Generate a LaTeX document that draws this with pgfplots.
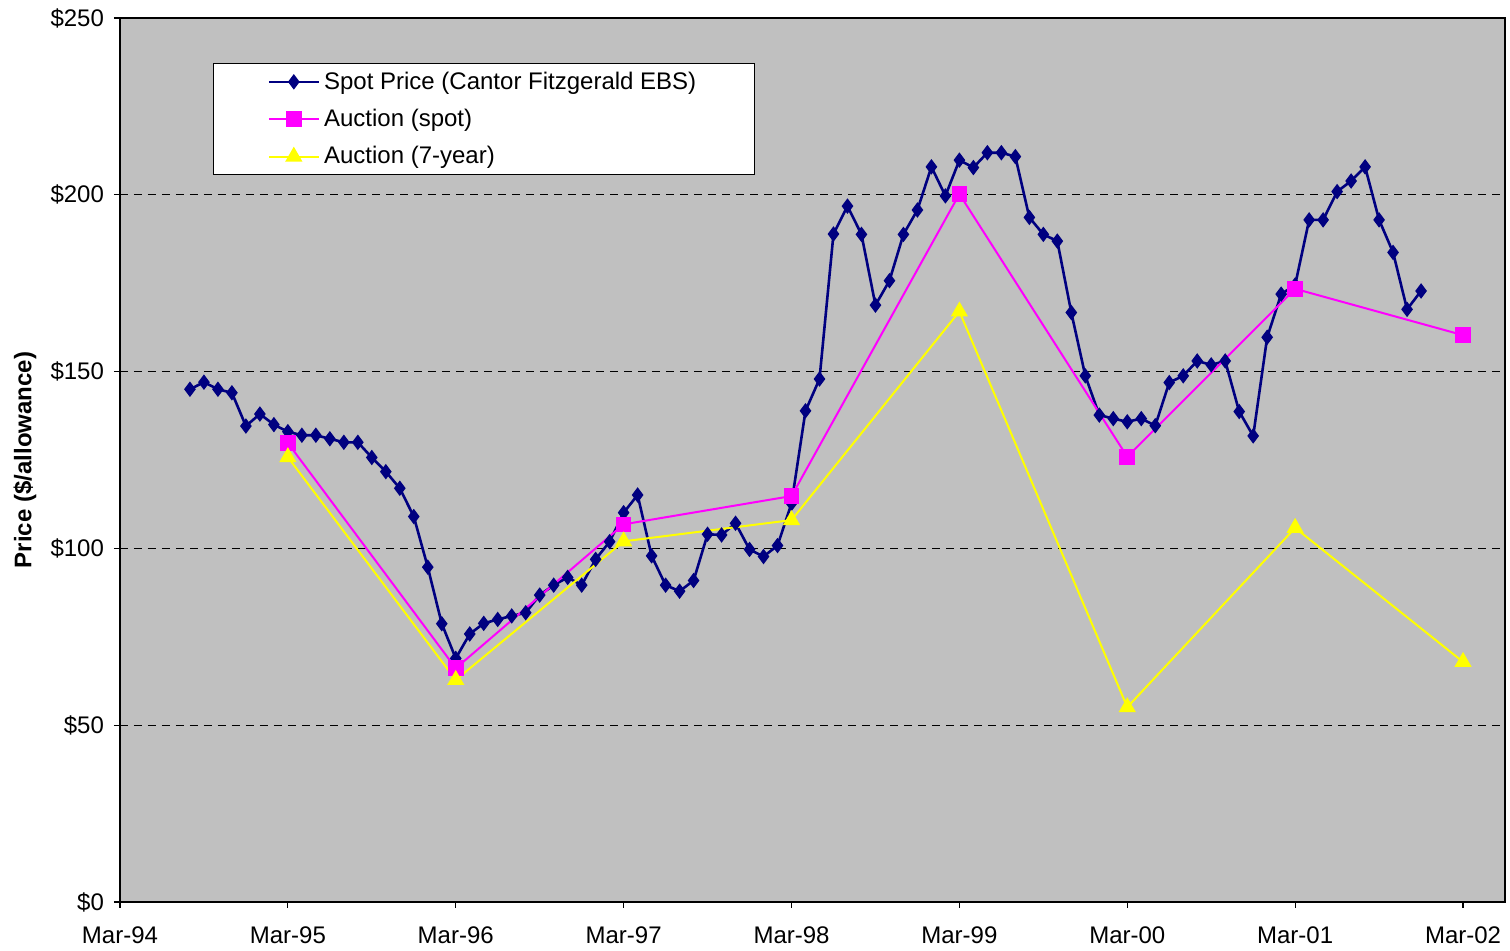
\documentclass[border=0pt]{standalone}
\usepackage{pgfplots}
\pgfplotsset{compat=1.18}
\usepackage{fontspec}
\setmainfont{Liberation Sans}
\definecolor{navyc}{RGB}{0,0,128}
\definecolor{magc}{RGB}{255,0,255}
\definecolor{yelc}{RGB}{255,255,0}
\definecolor{bgc}{RGB}{192,192,192}
\begin{document}
\begin{tikzpicture}
\begin{axis}[
  scale only axis,
  width=692.5pt, height=442pt,
  xmin=0, xmax=99, ymin=0, ymax=250,
  axis background/.style={fill=bgc},
  axis line style={black, line width=0.8pt},
  xtick={0,12,24,36,48,60,72,84,96},
  xticklabels={Mar-94,Mar-95,Mar-96,Mar-97,Mar-98,Mar-99,Mar-00,Mar-01,Mar-02},
  ytick={0,50,100,150,200,250},
  yticklabels={\$0,\$50,\$100,\$150,\$200,\$250},
  tick align=outside, xtick pos=bottom, ytick pos=left,
  major tick length=3pt,
  tick style={black, line width=0.6pt},
  ticklabel style={font=\fontsize{12}{14}\selectfont},
  xticklabel style={yshift=-6pt},
  yticklabel style={xshift=-1.5pt},
  ymajorgrids,
  grid style={black, dash pattern=on 4pt off 3pt, line width=0.5pt},
  ylabel={Price (\$/allowance)},
  ylabel style={font=\fontsize{12}{14}\selectfont\bfseries, at={(axis description cs:-0.0686,0.5)}, anchor=center},
  legend style={at={(rel axis cs:0.0671,0.949)}, anchor=north west, draw=black, fill=white,
    font=\fontsize{12}{14}\selectfont, inner xsep=27pt, inner ysep=2pt, row sep=4.5pt, line width=0.6pt},
  legend cell align=left,
  legend image code/.code={\draw[mark repeat=2,mark phase=2] plot coordinates {(0pt,0pt)(12.5pt,0pt)(25pt,0pt)};},
]
\addplot[navyc, line width=1.3pt, mark=diamond*, mark size=3.4pt, mark options={solid, fill=navyc, line width=0.6pt}] coordinates {
(5,145)(6,147)(7,145)(8,144)(9,134.6)(10,138)(11,135)(12,133)(13,132)(14,132)(15,131)(16,130)(17,130)
(18,125.7)(19,121.7)(20,117)(21,109)(22,94.7)(23,78.7)(24,68.9)(25,75.8)(26,78.8)(27,79.9)(28,80.9)
(29,81.8)(30,86.8)(31,89.6)(32,91.8)(33,89.6)(34,96.9)(35,101.9)(36,110.1)(37,115.1)(38,97.9)(39,89.6)
(40,87.9)(41,90.9)(42,104)(43,103.8)(44,107.1)(45,99.7)(46,97.7)(47,100.8)(48,112.7)(49,138.9)(50,147.9)
(51,188.9)(52,196.8)(53,188.8)(54,168.8)(55,175.7)(56,188.8)(57,195.7)(58,207.9)(59,199.7)(60,209.8)
(61,207.7)(62,211.9)(63,211.9)(64,210.8)(65,193.6)(66,188.8)(67,186.9)(68,166.7)(69,148.8)(70,137.7)
(71,136.7)(72,135.8)(73,136.7)(74,134.7)(75,146.9)(76,148.8)(77,153)(78,151.9)(79,153)(80,138.7)
(81,131.8)(82,159.7)(83,171.9)(84,174.5)(85,192.9)(86,192.9)(87,200.9)(88,203.9)(89,207.9)(90,192.9)
(91,183.7)(92,167.6)(93,172.8)};
\addlegendentry{Spot Price (Cantor Fitzgerald EBS)}
\addplot[magc, line width=1pt, mark=square*, mark size=3.4pt, mark options={solid, fill=magc}] coordinates {
(12,129.8)(24,66.1)(36,106.8)(48,114.8)(60,200.2)(72,125.9)(84,173.4)(96,160.3)};
\addlegendentry{Auction (spot)}
\addplot[yelc, line width=1pt, mark=triangle*, mark size=4pt, mark options={solid, fill=yelc}] coordinates {
(12,125.8)(24,62.8)(36,102)(48,108)(60,167)(72,55.1)(84,105.8)(96,67.9)};
\addlegendentry{Auction (7-year)}
\end{axis}
\useasboundingbox (-60pt,-24.5pt) rectangle (695pt,451pt);
\end{tikzpicture}
\end{document}
